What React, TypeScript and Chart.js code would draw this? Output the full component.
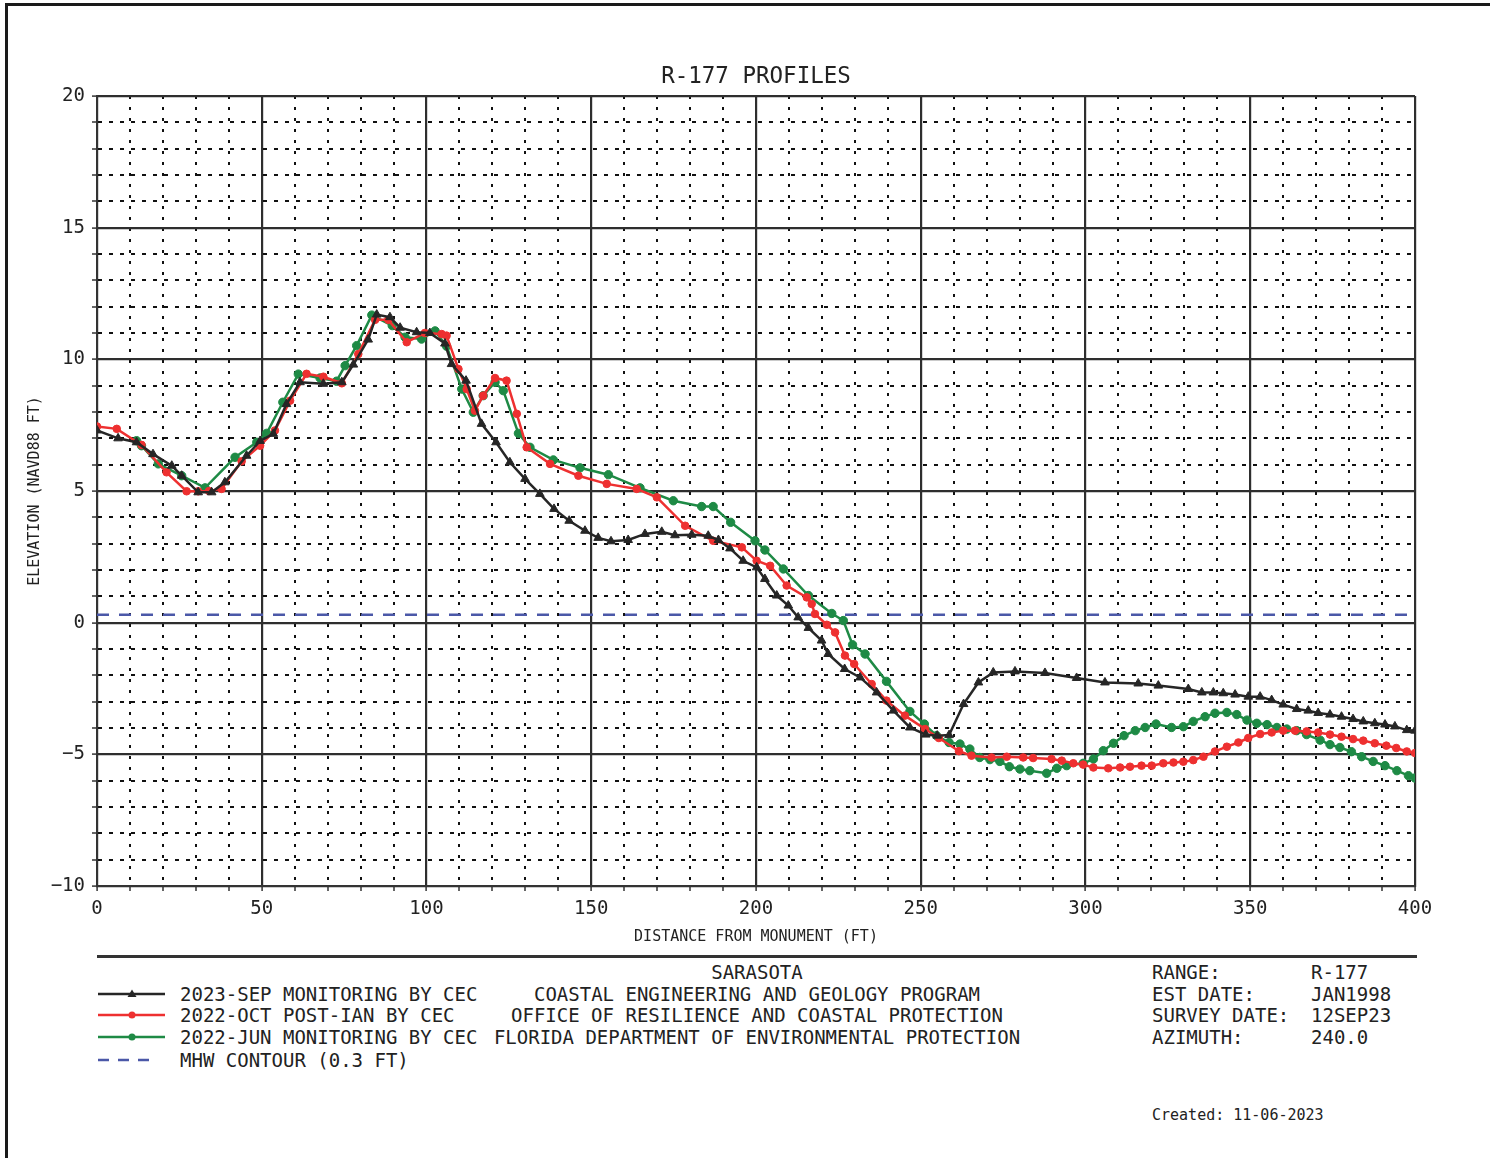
import React, { useEffect, useRef } from 'react';
import { Chart, registerables } from 'chart.js';

Chart.register(...registerables);

const FONT = "'DejaVu Sans Mono', monospace";
const INK = '#222222';

// ---- Data (distance from monument, ft / elevation NAVD88, ft) ----
const sep2023X = [0, 6.4, 12, 17, 22.7, 25.7, 30.7, 34.8, 38.8, 45.4, 49.5, 53.5, 57.5, 61.6, 68.7, 74.3, 77.8, 82.3, 84.9, 88.9, 92, 97, 101, 105.6, 107.6, 112, 116.7, 121.1, 125.3, 129.9, 134.4, 138.7, 143.3, 148.1, 152.1, 156, 161.2, 166.3, 171.4, 175.4, 180.5, 185.5, 188.6, 192.1, 196.1, 200.2, 202.7, 206.3, 209.8, 212.8, 215.9, 219.9, 221.9, 226.9, 231.6, 236.6, 241.7, 246.7, 251.5, 255, 258.6, 263, 267.5, 272, 278.6, 287.7, 297.3, 305.9, 316, 322.1, 331.2, 335.3, 338.8, 341.8, 345.4, 349.4, 353, 356.5, 360, 364.1, 367.6, 370.6, 374.2, 377.7, 381.2, 384.3, 387.8, 390.9, 393.9, 397.5, 400];
const sep2023Y = [7.3, 7.0, 6.85, 6.4, 5.96, 5.58, 4.95, 4.95, 5.33, 6.34, 6.9, 7.17, 8.3, 9.13, 9.07, 9.13, 9.8, 10.75, 11.7, 11.6, 11.2, 11.03, 11.0, 10.6, 9.82, 9.19, 7.55, 6.85, 6.09, 5.46, 4.89, 4.32, 3.87, 3.49, 3.22, 3.09, 3.14, 3.37, 3.45, 3.32, 3.34, 3.3, 3.14, 2.82, 2.35, 2.1, 1.66, 1.03, 0.65, 0.2, -0.2, -0.68, -1.19, -1.76, -2.08, -2.65, -3.34, -3.98, -4.25, -4.29, -4.27, -3.09, -2.27, -1.89, -1.85, -1.91, -2.1, -2.27, -2.31, -2.39, -2.52, -2.65, -2.65, -2.68, -2.73, -2.81, -2.81, -2.94, -3.11, -3.28, -3.34, -3.43, -3.49, -3.57, -3.66, -3.75, -3.82, -3.87, -3.94, -4.08, -4.1];

const oct2022X = [0, 6, 13.5, 21.1, 27.2, 30.7, 34, 37.8, 43.9, 49.5, 54, 58.6, 63.6, 68.7, 74.3, 79.3, 84.4, 88.4, 94, 99.5, 104.6, 106.1, 109.7, 112.2, 114.7, 117.2, 120.8, 124.3, 127.4, 130.4, 137.5, 146.1, 154.7, 163.8, 169.9, 178.5, 187, 195.7, 200.2, 204.3, 209.3, 215.4, 216.9, 217.9, 221.5, 224, 227, 229.8, 235.1, 239.6, 245.2, 251.3, 255.5, 261.6, 265.4, 271.5, 276.1, 281.1, 284.1, 289.7, 292.8, 296.3, 299.3, 302.4, 306.9, 310.5, 313.5, 317, 320.1, 323.6, 326.7, 329.7, 332.7, 335.8, 339.3, 342.9, 346.4, 349.4, 353, 356.5, 360, 363.6, 367.1, 370.6, 374.2, 377.7, 381.2, 384.3, 387.8, 391.3, 394.3, 397.5, 400];
const oct2022Y = [7.45, 7.36, 6.75, 5.71, 4.99, 4.99, 5.0, 5.08, 6.13, 6.72, 7.3, 8.43, 9.45, 9.34, 9.09, 10.2, 11.5, 11.5, 10.65, 11.0, 10.96, 10.9, 9.63, 8.87, 8.05, 8.62, 9.29, 9.19, 7.93, 6.66, 6.03, 5.58, 5.27, 5.08, 4.76, 3.68, 3.11, 2.86, 2.35, 2.16, 1.41, 0.96, 0.71, 0.33, -0.08, -0.37, -1.25, -1.57, -2.33, -2.96, -3.53, -4.04, -4.38, -4.88, -5.05, -5.12, -5.09, -5.12, -5.14, -5.18, -5.24, -5.34, -5.39, -5.5, -5.53, -5.5, -5.47, -5.43, -5.43, -5.34, -5.31, -5.28, -5.22, -5.09, -4.89, -4.71, -4.55, -4.38, -4.23, -4.17, -4.1, -4.1, -4.13, -4.17, -4.25, -4.33, -4.42, -4.48, -4.58, -4.67, -4.76, -4.89, -4.95];

const jun2022X = [12, 13.5, 18.6, 25.7, 32.8, 41.9, 48.5, 51.5, 56.4, 61.1, 67.7, 72.7, 75.3, 78.8, 83.4, 89.6, 93.5, 98.5, 102.6, 106.1, 110.7, 114.2, 117.2, 120.8, 123.3, 127.9, 131.4, 138.5, 146.6, 155.2, 164.8, 174.9, 183.5, 187, 192.3, 199.7, 202.7, 208.3, 215.9, 223, 226.5, 229.3, 233.1, 239.6, 246.7, 251.1, 254.8, 258.6, 261.9, 264.9, 267.9, 271, 274, 276.9, 280.1, 283.1, 288.2, 291.3, 294.3, 299.3, 302.4, 305.4, 308.5, 311.7, 315.1, 318.1, 321.4, 326.1, 329.7, 332.7, 336.3, 339.3, 342.9, 345.9, 349, 352, 355.1, 358.1, 361.1, 364.1, 367.1, 371.2, 374.2, 377.2, 380.7, 383.8, 387.3, 390.9, 394.5, 398, 400];
const jun2022Y = [6.91, 6.72, 6.03, 5.58, 5.12, 6.28, 6.85, 7.19, 8.37, 9.44, 9.29, 9.17, 9.76, 10.52, 11.68, 11.28, 10.84, 10.77, 11.08, 10.5, 8.87, 7.99, 8.62, 9.13, 8.81, 7.19, 6.66, 6.18, 5.88, 5.62, 5.12, 4.63, 4.41, 4.41, 3.81, 3.11, 2.76, 2.04, 1.03, 0.35, 0.08, -0.84, -1.19, -2.23, -3.37, -3.85, -4.29, -4.55, -4.61, -4.8, -5.12, -5.2, -5.27, -5.47, -5.56, -5.62, -5.72, -5.53, -5.43, -5.34, -5.18, -4.86, -4.58, -4.29, -4.1, -3.98, -3.85, -3.98, -3.95, -3.75, -3.57, -3.44, -3.41, -3.49, -3.7, -3.82, -3.87, -3.98, -4.04, -4.1, -4.25, -4.46, -4.63, -4.74, -4.9, -5.09, -5.27, -5.43, -5.62, -5.81, -5.9];

const mhwX = [0, 400];
const mhwLevel = 0.3;

const seriesLabels = ['2023-SEP MONITORING BY CEC', '2022-OCT POST-IAN BY CEC', '2022-JUN MONITORING BY CEC', 'MHW CONTOUR (0.3 FT)'];
const seriesColors = ['#262626', '#ee3030', '#1e8a45', '#4b58a8'];

const xRange = [0, 400];
const yRange = [-10, 20];
const xMajor = 50;
const xMinor = 10;
const yMajor = 5;
const yMinor = 1;

const centerLines = ['SARASOTA', 'COASTAL ENGINEERING AND GEOLOGY PROGRAM', 'OFFICE OF RESILIENCE AND COASTAL PROTECTION', 'FLORIDA DEPARTMENT OF ENVIRONMENTAL PROTECTION'];
const infoKeys = ['RANGE:', 'EST DATE:', 'SURVEY DATE:', 'AZIMUTH:'];
const infoValues = ['R-177', 'JAN1998', '12SEP23', '240.0'];
const createdText = 'Created: 11-06-2023';

const toPts = (xs: number[], ys: number[]) => xs.map((x, i) => ({ x, y: ys[i] }));

function LegendMark({ idx }: { idx: number }) {
  const c = seriesColors[idx];
  if (idx === 3) {
    return (
      <svg width={70} height={12} style={{ display: 'block' }}>
        <line x1={0} y1={6} x2={60} y2={6} stroke={c} strokeWidth={2.5} strokeDasharray="11 9" />
      </svg>
    );
  }
  return (
    <svg width={70} height={12} style={{ display: 'block' }}>
      <line x1={0} y1={6} x2={67} y2={6} stroke={c} strokeWidth={2.5} />
      {idx === 0 ? (
        <polygon points="34,1.5 38.5,9 29.5,9" fill={c} />
      ) : (
        <circle cx={34} cy={6} r={3.5} fill={c} />
      )}
    </svg>
  );
}

export default function App() {
  const ref = useRef<HTMLCanvasElement>(null);

  useEffect(() => {
    const canvas = ref.current;
    if (!canvas) return;
    const majX = (v: number) => Math.abs(v % xMajor) < 1e-6;
    const majY = (v: number) => Math.abs(v % yMajor) < 1e-6;
    const pad = { left: 20, top: 40, right: 60, bottom: 10 };
    const tickFont = { family: FONT, size: 19 };

    const chart = new Chart(canvas, {
      type: 'line',
      data: {
        datasets: [
          {
            label: seriesLabels[0], data: toPts(sep2023X, sep2023Y), borderColor: seriesColors[0], backgroundColor: seriesColors[0],
            borderWidth: 2.5, pointStyle: 'triangle', pointRadius: 5, pointBorderWidth: 1, tension: 0,
          },
          {
            label: seriesLabels[1], data: toPts(oct2022X, oct2022Y), borderColor: seriesColors[1], backgroundColor: seriesColors[1],
            borderWidth: 2.5, pointStyle: 'circle', pointRadius: 3.8, pointBorderWidth: 1, tension: 0,
          },
          {
            label: seriesLabels[2], data: toPts(jun2022X, jun2022Y), borderColor: seriesColors[2], backgroundColor: seriesColors[2],
            borderWidth: 2.5, pointStyle: 'circle', pointRadius: 4.2, pointBorderWidth: 1, tension: 0,
          },
          {
            label: seriesLabels[3], data: mhwX.map((x) => ({ x, y: mhwLevel })), borderColor: seriesColors[3],
            borderWidth: 2.5, borderDash: [12, 10], pointRadius: 0, tension: 0,
          },
        ],
      },
      options: {
        responsive: false,
        animation: false,
        devicePixelRatio: 1,
        layout: { padding: pad },
        plugins: {
          legend: { display: false },
          tooltip: { enabled: false },
          title: {
            display: true, text: 'R-177 PROFILES', color: INK, fullSize: false,
            font: { family: FONT, size: 22.5, weight: 'normal' }, padding: { top: 0, bottom: 5 },
          },
        },
        scales: {
          x: {
            type: 'linear', min: xRange[0], max: xRange[1],
            ticks: {
              stepSize: xMinor, autoSkip: false, maxRotation: 0, color: INK, font: tickFont, padding: 7,
              callback: (v: any) => (majX(Number(v)) ? String(v) : ''),
            },
            grid: {
              color: (c: any) => (c.tick && majX(c.tick.value) ? '#2e2e2e' : '#111111'),
              lineWidth: (c: any) => (c.tick && majX(c.tick.value) ? 2.2 : 2),
              tickLength: 5, tickColor: '#333333', tickWidth: 1.5,
            },
            border: {
              display: true, color: '#333333', width: 2,
              dash: (c: any) => (c.tick && !majX(c.tick.value) ? [3, 8] : []),
            },
            title: {
              display: true, text: 'DISTANCE FROM MONUMENT (FT)', color: INK,
              font: { family: FONT, size: 15 }, padding: { top: 0, bottom: 0 },
            },
          },
          y: {
            type: 'linear', min: yRange[0], max: yRange[1],
            ticks: {
              stepSize: yMinor, autoSkip: false, color: INK, font: tickFont, padding: 7,
              callback: (v: any) => {
                const n = Number(v);
                if (!majY(n)) return '';
                return n < 0 ? '\u2212' + String(-n) : String(n);
              },
            },
            grid: {
              color: (c: any) => (c.tick && majY(c.tick.value) ? '#2e2e2e' : '#111111'),
              lineWidth: (c: any) => (c.tick && majY(c.tick.value) ? 2.2 : 2),
              tickLength: 5, tickColor: '#333333', tickWidth: 1.5,
            },
            border: {
              display: true, color: '#333333', width: 2,
              dash: (c: any) => (c.tick && !majY(c.tick.value) ? [4, 7] : []),
            },
            title: {
              display: true, text: 'ELEVATION (NAVD88 FT)', color: INK,
              font: { family: FONT, size: 15 }, padding: { top: 0, bottom: 0 },
            },
          },
        },
      },
    } as any);

    const target = { left: 97, top: 96, right: 1415, bottom: 886 };
    for (let i = 0; i < 4; i++) {
      const ca = chart.chartArea;
      const dl = target.left - ca.left;
      const dt = target.top - ca.top;
      const dr = ca.right - target.right;
      const db = ca.bottom - target.bottom;
      if (Math.abs(dl) + Math.abs(dt) + Math.abs(dr) + Math.abs(db) < 0.5) break;
      pad.left += dl; pad.top += dt; pad.right += dr; pad.bottom += db;
      (chart.options as any).layout.padding = { ...pad };
      chart.update();
    }

    return () => chart.destroy();
  }, []);

  const textStyle: React.CSSProperties = {
    position: 'absolute', fontFamily: FONT, fontSize: 19, lineHeight: '22px', color: INK, whiteSpace: 'pre', margin: 0,
  };
  const rowY = [961, 983, 1004, 1026, 1049];

  return (
    <div style={{ position: 'fixed', left: 0, top: 0, width: 1490, height: 1158, background: '#fff', overflow: 'hidden' }}>
      <div style={{ position: 'absolute', left: 5, top: 3, width: 1500, height: 1200, borderLeft: '3px solid #1a1a1a', borderTop: '3px solid #1a1a1a' }} />
      <canvas ref={ref} width={1490} height={950} style={{ position: 'absolute', left: 0, top: 0, display: 'block' }} />
      <div style={{ position: 'absolute', left: 97, top: 955, width: 1320, height: 3, background: '#333' }} />
      {centerLines.map((t, i) => (
        <div key={'c' + i} style={{ ...textStyle, left: 457, width: 600, textAlign: 'center', top: rowY[i] }}>{t}</div>
      ))}
      {infoKeys.map((k, i) => (
        <div key={'k' + i} style={{ ...textStyle, left: 1152, top: rowY[i] }}>{k}</div>
      ))}
      {infoValues.map((v, i) => (
        <div key={'v' + i} style={{ ...textStyle, left: 1311, top: rowY[i] }}>{v}</div>
      ))}
      {seriesLabels.map((l, i) => (
        <React.Fragment key={'l' + i}>
          <div style={{ position: 'absolute', left: 98, top: rowY[i + 1] + 5 }}><LegendMark idx={i} /></div>
          <div style={{ ...textStyle, left: 180, top: rowY[i + 1] }}>{l}</div>
        </React.Fragment>
      ))}
      <div style={{ ...textStyle, fontSize: 15, left: 1152, top: 1104 }}>{createdText}</div>
    </div>
  );
}
